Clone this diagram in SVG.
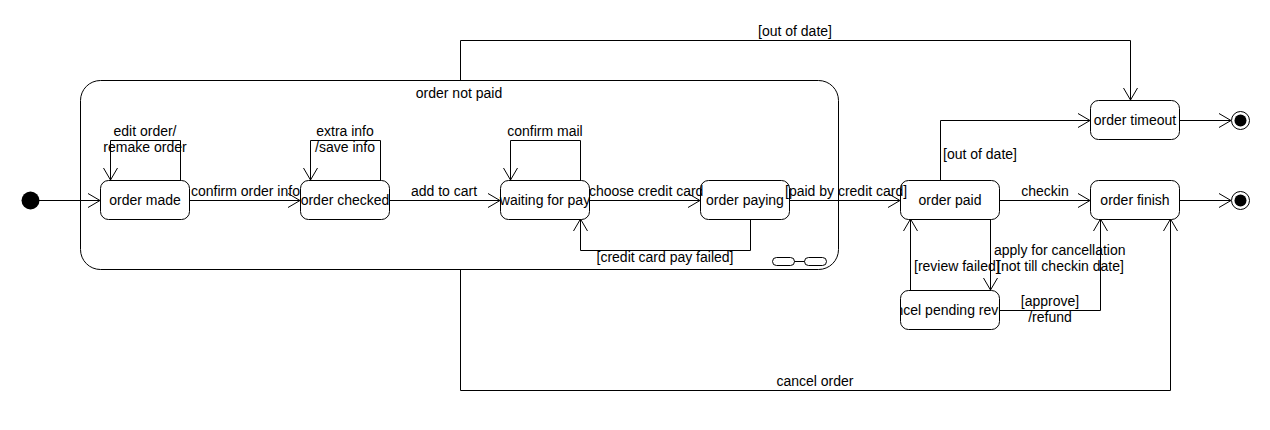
<svg xmlns="http://www.w3.org/2000/svg" width="1270" height="430" viewBox="0 0 1270 430">
<style>
.st{fill:#fff;stroke:#000;stroke-width:1}
.e{fill:none;stroke:#000;stroke-width:1}
text{font-family:"Liberation Sans",Arial,sans-serif;font-size:14px;fill:#000}
.c{text-anchor:middle}
</style>
<defs>
<marker id="a" markerUnits="userSpaceOnUse" markerWidth="30" markerHeight="30" viewBox="-15 -15 30 30" refX="0" refY="0" orient="auto" overflow="visible">
<path d="M-12,-7 L0,0 L-12,7" fill="none" stroke="#000" stroke-width="1"/>
</marker>
<clipPath id="cp"><rect x="900" y="290" width="100" height="40"/></clipPath>
</defs>
<rect width="1270" height="430" fill="#fff"/>
<g id="order-not-paid">
<rect class="st" x="80.5" y="80.5" width="758" height="189" rx="20"/>
<text class="c" x="459" y="98">order not paid</text>
<rect class="st" x="772.5" y="257.5" width="22" height="8" rx="4"/>
<rect class="st" x="804.5" y="257.5" width="22" height="8" rx="4"/>
<line class="e" x1="794.5" y1="261.5" x2="804.5" y2="261.5"/>
</g>
<g id="initial"><circle cx="30.5" cy="200.5" r="9" fill="#000"/></g>
<g id="order-made"><rect class="st" x="100.5" y="180.5" width="89" height="39" rx="8"/><text class="c" x="145" y="205">order made</text></g>
<g id="order-checked"><rect class="st" x="300.5" y="180.5" width="89" height="39" rx="8"/><text class="c" x="345" y="205">order checked</text></g>
<g id="waiting-for-pay"><rect class="st" x="500.5" y="180.5" width="89" height="39" rx="8"/><text class="c" x="545" y="205">waiting for pay</text></g>
<g id="order-paying"><rect class="st" x="700.5" y="180.5" width="89" height="39" rx="8"/><text class="c" x="745" y="205">order paying</text></g>
<g id="order-paid"><rect class="st" x="900.5" y="180.5" width="99" height="39" rx="8"/><text class="c" x="950" y="205">order paid</text></g>
<g id="order-finish"><rect class="st" x="1090.5" y="180.5" width="89" height="39" rx="8"/><text class="c" x="1135" y="205">order finish</text></g>
<g id="order-timeout"><rect class="st" x="1090.5" y="100.5" width="89" height="39" rx="8"/><text class="c" x="1135" y="125">order timeout</text></g>
<g id="cancel-pending-review"><rect class="st" x="900.5" y="290.5" width="99" height="39" rx="8"/><text class="c" x="950" y="315" clip-path="url(#cp)">cancel pending review</text></g>
<g id="final-timeout"><circle cx="1240.5" cy="120.5" r="9" fill="#fff" stroke="#000"/><circle cx="1240.5" cy="120.5" r="6" fill="#000"/></g>
<g id="final-finish"><circle cx="1240.5" cy="200.5" r="9" fill="#fff" stroke="#000"/><circle cx="1240.5" cy="200.5" r="6" fill="#000"/></g>
<g id="connectors">
<path class="e" d="M39,200.5 H100" marker-end="url(#a)"/>
<path class="e" d="M189,200.5 H300" marker-end="url(#a)"/>
<text x="191" y="196">confirm order info</text>
<path class="e" d="M180.5,180 V140.5 H110.5 V180" marker-end="url(#a)"/>
<text class="c" x="145" y="136">edit order/</text>
<text class="c" x="145" y="152">remake order</text>
<path class="e" d="M380.5,180 V140.5 H310.5 V180" marker-end="url(#a)"/>
<text class="c" x="345" y="136">extra info</text>
<text class="c" x="345" y="152">/save info</text>
<path class="e" d="M389,200.5 H500" marker-end="url(#a)"/>
<text class="c" x="444" y="196">add to cart</text>
<path class="e" d="M580.5,180 V140.5 H510.5 V180" marker-end="url(#a)"/>
<text class="c" x="545" y="136">confirm mail</text>
<path class="e" d="M589,200.5 H700" marker-end="url(#a)"/>
<text x="589" y="196">choose credit card</text>
<path class="e" d="M750.5,219 V250.5 H580.5 V219" marker-end="url(#a)"/>
<text class="c" x="665" y="262">[credit card pay failed]</text>
<path class="e" d="M789,200.5 H900" marker-end="url(#a)"/>
<text x="785" y="196">[paid by credit card]</text>
<path class="e" d="M460.5,80 V40.5 H1130.5 V100" marker-end="url(#a)"/>
<text class="c" x="795" y="36">[out of date]</text>
<path class="e" d="M460.5,269 V390.5 H1170.5 V219" marker-end="url(#a)"/>
<text class="c" x="815" y="386">cancel order</text>
<path class="e" d="M940.5,180 V120.5 H1090" marker-end="url(#a)"/>
<text x="943" y="159">[out of date]</text>
<path class="e" d="M999,200.5 H1090" marker-end="url(#a)"/>
<text class="c" x="1045" y="196">checkin</text>
<path class="e" d="M990.5,219 V290" marker-end="url(#a)"/>
<text x="994" y="255">apply for cancellation</text>
<text x="997" y="271">[not till checkin date]</text>
<path class="e" d="M910.5,290 V219" marker-end="url(#a)"/>
<text x="914" y="271">[review failed]</text>
<path class="e" d="M999,310.5 H1100.5 V219" marker-end="url(#a)"/>
<text class="c" x="1050" y="306">[approve]</text>
<text class="c" x="1050" y="322">/refund</text>
<path class="e" d="M1179,120.5 H1231" marker-end="url(#a)"/>
<path class="e" d="M1179,200.5 H1231" marker-end="url(#a)"/>
</g>
</svg>
